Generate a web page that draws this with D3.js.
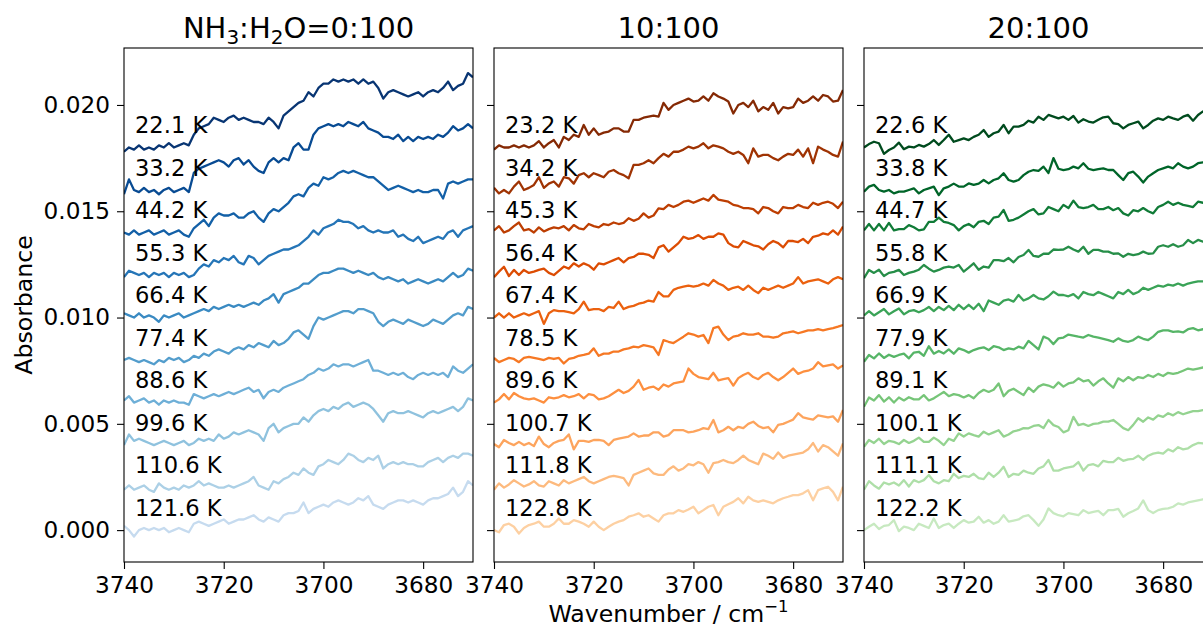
<!DOCTYPE html>
<html><head><meta charset="utf-8">
<script src="https://cdn.jsdelivr.net/npm/d3@7"></script>
<style>body{margin:0;background:#fff}svg{display:block}text{font-family:"DejaVu Sans",sans-serif}</style>
</head><body><svg id="c" width="1203" height="628"></svg>
<script>
// ---------- DATA ----------
// Wavenumber grid (cm^-1): 3740 down to 3670, step 1
const wnStart = 3740, wnStep = -1;
// vertical offsets applied to each spectrum (absorbance)
const offsets = [0.018, 0.016, 0.014, 0.012, 0.010, 0.008, 0.006, 0.004, 0.002, 0.000];
// spectra values in units of 1e-4 absorbance (before offset)
const titles = ["NH3:H2O=0:100", "10:100", "20:100"];
const temps0 = ["22.1 K","33.2 K","44.2 K","55.3 K","66.4 K","77.4 K","88.6 K","99.6 K","110.6 K","121.6 K"];
const temps1 = ["23.2 K","34.2 K","45.3 K","56.4 K","67.4 K","78.5 K","89.6 K","100.7 K","111.8 K","122.8 K"];
const temps2 = ["22.6 K","33.8 K","44.7 K","55.8 K","66.9 K","77.9 K","89.1 K","100.1 K","111.1 K","122.2 K"];

// Panel 1: NH3:H2O = 0:100
const b_221 = [-2,0,-1,1,-1,0,-1,1,0,2, 0,1,2,1,6,9,10,11,14,13, 12,14,15,13,14,13,12,12,11,14, 12,9,15,17,19,21,22,26,24,28, 30,30,32,31,32,31,32,30,32,30, 31,28,23,26,27,26,25,24,25,26, 24,26,27,26,28,31,27,29,30,35,33];
const b_332 = [-2,5,0,-1,1,-1,0,-2,0,1, -1,0,1,-1,8,10,11,12,13,14, 13,11,14,15,12,14,11,9,8,13, 15,13,15,14,20,22,19,19,26,29, 30,31,30,31,30,32,31,30,32,29, 28,27,25,25,24,26,23,25,23,25, 24,25,24,26,25,27,30,28,29,31,29];
const b_442 = [0,-1,1,-1,0,1,-1,0,1,-1, 0,1,-1,-2,2,4,6,3,7,9, 8,8,9,7,7,9,10,7,5,9, 11,10,12,14,17,18,17,21,23,22, 26,25,26,28,29,28,29,28,27,26, 26,24,22,20,21,22,21,20,19,20, 19,19,20,20,16,23,24,23,24,25,25];
const b_553 = [-1,2,1,0,1,-1,1,0,1,-1, 1,0,1,-1,0,3,5,4,7,6, 8,7,9,6,5,9,8,5,7,9, 10,11,12,12,13,14,16,18,21,19, 22,23,24,26,25,25,24,22,23,21, 20,21,20,20,21,18,19,17,16,18, 15,16,17,18,17,20,21,18,21,22,23];
const b_664 = [2,1,0,2,0,1,0,-2,1,0, 1,2,0,1,2,3,4,3,5,4, 5,6,5,6,5,6,7,6,8,9, 11,7,11,12,13,14,16,16,18,20, 21,21,22,23,23,22,21,22,21,20, 21,19,18,19,18,17,18,16,17,18, 17,16,17,18,17,19,21,19,20,23,22];
const b_774 = [0,1,0,-1,0,-1,-2,0,-1,1, 0,1,-1,0,2,1,3,2,4,5, 4,3,5,6,5,7,6,8,7,6, 9,7,8,10,13,14,12,10,16,20, 19,20,21,22,23,23,22,24,24,23, 22,18,16,18,19,18,17,19,18,17, 16,17,19,18,17,19,21,22,21,25,24];
const b_886 = [1,3,0,1,2,0,1,-1,1,0, 1,0,0,-1,4,3,2,3,4,3, 4,5,4,5,6,7,5,6,2,5, 6,5,7,8,9,10,11,13,14,16, 15,16,18,17,18,18,17,18,19,20, 15,15,14,13,14,13,14,12,11,13, 14,13,14,13,14,12,17,15,14,16,18];
const b_996 = [0,5,2,3,2,1,0,1,2,1, 0,1,2,0,1,3,2,3,2,5, 3,4,6,5,6,7,6,5,2,8, 10,6,8,9,10,10,13,11,14,16, 17,16,18,17,19,20,18,19,20,19, 17,14,11,15,16,15,15,16,15,14, 13,15,16,15,16,17,18,16,18,22,21];
const b_1106 = [-1,1,-1,0,1,-1,-2,2,0,-1, 0,-1,1,0,1,3,1,2,1,0, 0,1,0,1,2,3,5,1,0,-1, 3,2,4,5,7,6,9,7,6,10, 11,13,12,11,13,16,15,13,12,14, 13,15,9,11,12,11,12,11,11,10, 10,12,13,14,12,14,15,14,16,16,15];
const b_1216 = [2,0,-3,0,1,0,1,0,1,-1, 0,1,0,-1,3,4,3,2,3,4, 5,3,4,5,5,6,7,5,4,6, 5,4,7,8,8,9,13,8,10,11, 12,11,13,14,13,12,13,15,14,16, 12,11,10,12,13,14,14,13,14,13, 12,14,15,15,16,17,20,16,18,23,21];

// Panel 2: 10:100
const o_232 = [-1,1,0,0,1,0,1,0,1,3, 0,2,3.5,0,5,3.5,6,5,10.6,6, 9,6,7,7.5,9,9,7.5,7.5,13,13, 14,14.5,15,14.5,21,17.7,20,21,22,23, 21.6,22,24,22,25.5,24,23,21.6,16,20, 21,19,22,17,19,17.7,21,16,19,18.4, 19,23,21,22,24,22,24.7,24,21.6,22,27];
const o_342 = [1,-1.6,0,-1.6,1.6,4,0,1,2.4,6, 1,3,4,1.6,6,5.5,3,7,7.9,6, 7.9,7,6,8.6,9.4,7.9,7,5.5,11.8,11.8, 12.6,14,12.6,15,17,15.7,18,18,19,20.4, 19.6,20.4,22,19.6,21,20.4,19.6,18,17,18, 16.5,12.6,19.6,15.7,16.5,16.5,15,14,15.7,17, 16.5,19,15.7,19.6,12.6,20.4,19,18,16.5,15.7,22.8];
const o_453 = [1,3,0,1,3,4.7,1,1.6,0,2.4, 0.5,1.6,2.4,2,3,1,3.5,2,1.5,4, 3,2.4,4,3.5,4.7,4,4.5,6.7,5.5,6.5, 9,7,8,11.4,11,13,12,13,14.5,15, 14,15,16,15,17.7,15.5,15,14.5,13,12.5, 11.5,11.5,11,9,12,11.5,10,9,12,11.5, 11.5,13,12,11.5,14,13,14,14.5,13.5,11.5,14.5];
const o_564 = [-1,1.6,3.9,-0.5,2.4,0,2.4,1,1.6,2.4, 3,1,0,2,4,3,5.5,4,5.5,4.5, 2.5,5.5,5,6,7,8,6,8,8.5,10, 10,9.5,8,13,14,11,13,15,18,17, 17.5,18.8,17,18,18,19.6,19,15,13.5,13, 16,15,14,13.5,12,14.5,16,15,13,16, 16,15.5,17,15,18,18.5,19.6,19,21,19,22.8];
const o_674 = [0,2,0,2,0,1,2,1,2,3, -3,2,3.5,3,3,2.5,2,4,7.5,3.5, 4,4,3,5,4.5,7.5,4,5,5.5,6.5, 7,8,7.5,12,10,10,13,14,14.5,15, 14.5,15,16,15,17.7,16,15,13,14,14.5, 13,15,13,11.5,14,13,14,15,14,15, 16,19,16,17,17.5,18,17,16,18,19,18];
const o_785 = [1,-1,0,1,0.5,-1,1,1.5,1,0.5, 0,1,0.5,1,-1.6,0.5,1,2,2.4,3, 5.5,2,3,3,4,4,5,5.5,6.3,6, 7,6.5,6,2.4,9.4,8.6,8,9.5,11,12.6, 12,11,11.8,8,15,15.7,12,9.4,11,11.5, 12.6,12,12,12.6,11,11,10.5,11,12.6,13, 13.5,12.6,13.3,14,14,14.5,14,14.5,15,15.7,16.5];
const o_896 = [0,1.5,4,1.5,4.5,3,2,1.5,2,1, 0,2.5,2,2.5,3.5,2.5,3,4,2,4, 3.5,1.5,2,3,4.5,6,4.5,5.5,7.5,10.6, 6,7,7.5,6,8.5,7.5,9,9.5,10,16, 13.5,12,11.5,11,14,10.5,11,11.5,8,11.5, 13,14,12,11,13,14,12,10.5,12,14, 16,13.5,14.5,15,16,19,17,17.5,18,16,17.5];
const o_1007 = [0.5,-1,2.4,1,0,1.5,0,1,-0.5,4, 0.5,-1,1,2,2.5,5,-2,2,2,1.5, 2.4,2.4,2,0,2.4,3,3.5,4,5.5,4, 4.5,4.5,6,6,4,4.7,7,7,7,6, 6.3,7,8,7.5,11.8,6,7,8.6,7,8.6, 8,10,11,9,8,8.5,6,9.5,10,11, 12,15,13,12.5,12,14,13.5,13,13.5,11,16.5];
const o_1118 = [-1,2,0,1.5,3.5,2,0.5,1.5,3,1, 0.5,3,2,1,3.5,2,3,4,5,3, 2,3,4,5,5.5,5,4.5,1,6,7, 8,9,6.7,6,6,8.5,10,8,9,11, 10.5,12,11,7,11.5,12,13,12,11.5,13, 15,13,12,11,16,15,13.5,16.5,14,15, 15.5,16,16.5,18,21,17,20,19,17,15,20.8];
const o_1228 = [0,-1,2.4,3,1.6,-1.6,1,2.4,3,4, 1.6,1.6,3,5.5,3,3,4.7,4,3,1.6, 4,1.6,0,1.6,3,4,4.7,6.3,7,7.9, 6.3,7,5.5,4,7,7.9,7.9,9.4,8.6,9.7, 11,7.9,9.4,11,11.8,7,11,12.2,13.3,15, 12.6,15.7,14,13.3,14,13.3,12.6,14,15,15.7, 16.5,16.5,17.3,18.8,14,18.8,19.6,20.4,18,14,20.4];

// Panel 3: 20:100
const g_226 = [0,1.6,2.7,2,-3,-1.2,0,2.3,-0.8,0.4, 0,1.2,0.4,1.6,3.5,1.2,3.5,6,2.7,3.5, 4.3,3.5,5,6,8.2,5,6.7,7.5,10.6,6.7, 9.8,9.8,10.6,12.6,11.7,14.5,13,15.3,14.5,13.7, 14.5,13,14.8,11.7,13.3,12.2,11.7,13,14.2,14.5, 11.4,11,9,10.6,11.4,12.2,9,10.6,12.6,13.7, 13,14.5,13.7,13,14.5,15.3,12.6,15.3,17,16,17];
const g_338 = [-0.8,1.6,2.4,0,-0.8,0,-1.6,-0.8,-0.8,0, 0.8,-1.6,0,0.8,1.6,-2.4,0.8,1.6,3,1.6, 1.6,3.1,2.4,3,4.7,3.1,4.7,5.5,7.9,4.7, 3.9,4.7,7,8.6,9.4,9,11,8,15,10, 9.4,9.8,11,10.2,12.6,10,9.4,9.8,10.2,9.4, 9.4,7,4.7,7.9,8.6,6.3,3.5,6.3,7.9,9.4, 10.2,11,10.2,12.6,11,10.2,11,12.6,13,12,13];
const g_447 = [1,4,1,4,1,4.5,1,1.6,1.6,3.5, 2.5,1,1.5,5,5,7,5,4.5,3.5,1, 3,4,2.5,5,5.5,4,7,7.5,10.6,5.5, 6,7,8.5,10,11,8.5,9,12,11,10, 13,11.5,15,12,11.5,12,13,11,11,12, 10.5,11.5,9,8,10.5,10,11.5,10,9,12, 13,14.5,13,14,13,12.5,12,14.5,14,15,14];
const g_558 = [-1.5,2.4,1,2.5,-0.5,1,1.5,2.4,0,1, 1.6,2.5,4.7,3,1.6,2.4,3.5,4,3.5,4.7, 1.6,3.5,5.5,2.5,4,3.5,7,7,6.5,8, 6,8.5,9.4,11.8,9,8.6,10,10,12,11.8, 12,13.3,12,11,13.3,10,11.8,11.8,11,11, 10,10.2,8.6,10,9.4,9.8,11,10,10.2,13.3, 14,13.3,14.5,13.3,14,16.5,15,16.5,15.7,17,16];
const g_669 = [1,3,1,2.5,4,1.5,3,4.3,1.5,3, 3.5,2.5,3.5,5,3,5,3.5,5.5,3.5,6, 4,6,4,6.5,3,8,7,6,8,8.5, 7.5,10.6,8,9,10.6,9,8.5,10,12.2,10.6, 10.6,10,11,9,12,11,10.5,12,11,10, 9,12,11,13,11,12,14,13,14,15, 14.5,15.5,15,16,15,16,16.5,17,17,18,17];
const g_779 = [-0.8,2.4,0.8,3.1,1,2.5,1.5,2.4,3,0.8, 3.5,3.9,2,6.5,3,4.3,3.1,5,3,5.5, 4.7,3.5,4.7,5.5,6,4.7,6.5,6,4.7,5.5, 5,6.3,5.5,9,7,5,11,10,7.5,10.2, 10.6,12,11.5,11,10.6,11.8,11,10.6,10,9.4, 8.6,10.2,9,8.6,9.4,11,10,9.4,11,13.3, 14,14,13.3,13.5,13,14.5,15,14,14.5,15,14.5];
const g_891 = [-2,2.4,1,3.5,0.5,2.5,0,2.4,1,2.5, 1.5,1.5,3.5,1,2,3.5,5,3,4,3.5, 2.4,3.5,2,4.5,6,5,6,9,3,5.5, 6.5,5,3.5,7,5,7.5,8.6,8,7,9.5, 7.5,9,9.5,11.4,10,10.6,8,10,11.4,9, 7,11.4,10,12,10.5,12,11.5,13,12,13.5, 12.5,14,13.5,14,15,16,15.5,16,16.5,17,16.5];
const g_1001 = [-0.8,2.4,1,3,0.5,2,1.5,0.5,2.4,1, 2,3.5,1.5,1.5,3.5,2,0,3,2,5.5, 4,5.5,4.7,4,6.3,5,6,7,4,5, 6.5,7,8,7.9,9,9.4,8,11.8,9.4,8.5, 6,7,13.3,9.4,10,9,10,10.2,11,11, 11.8,10,8,7,9.5,12.6,11,13,12,14, 13.3,15,14,15.5,14.5,15.3,16,16,16.5,17,16.5];
const g_1111 = [-1,3,1,-0.5,2.4,1.5,2.4,1,3.5,0.5, 3.5,2.5,3.5,5.9,3,2,3.5,3,6.5,4.5, 5.5,5,6.5,4.5,4,7,5,7,9.8,5, 6.5,6,8,7,6.5,9,10,13,8,8, 9,9.5,10,12,8,10.6,11,10,12.6,12, 12,14,12.6,13.3,13.5,15,13,15,16,16.5, 16,18,17,19,18,18.5,20,21,20.8,21,21.5];
const g_1222 = [0,1.6,3,0.5,2,2.4,4.7,-0.5,1.6,1, 0,3,2,1,5.5,1,2.4,3,1,3, 4.7,3.5,4,6.3,3.5,4.7,3,4,7,4, 4.5,5,6.5,7,4.7,2,5,10.2,8,7, 6.5,8,7.5,7,9.4,8,8.6,9,7,9.4, 9.4,10,6.3,7.9,9,10.2,14,9.4,8,9.4, 10,10.2,11,12.6,12,13,13.5,14,14.5,15,14.5];

const yTicks = [0, 0.005, 0.010, 0.015, 0.020];
const xTicks = [3740, 3720, 3700, 3680];

// ---------- STYLE / LAYOUT ----------
const cmaps = {
  Blues: ["#f7fbff","#deebf7","#c6dbef","#9ecae1","#6baed6","#4292c6","#2171b5","#08519c","#08306b"],
  Oranges: ["#fff5eb","#fee6ce","#fdd0a2","#fdae6b","#fd8d3c","#f16913","#d94801","#a63603","#7f2704"],
  Greens: ["#f7fcf5","#e5f5e0","#c7e9c0","#a1d99b","#74c476","#41ab5d","#238b45","#006d2c","#00441b"]
};
const panels = [
  {title: titles[0], temps: temps0, cmap: "Blues", series: [b_221,b_332,b_442,b_553,b_664,b_774,b_886,b_996,b_1106,b_1216]},
  {title: titles[1], temps: temps1, cmap: "Oranges", series: [o_232,o_342,o_453,o_564,o_674,o_785,o_896,o_1007,o_1118,o_1228]},
  {title: titles[2], temps: temps2, cmap: "Greens", series: [g_226,g_338,g_447,g_558,g_669,g_779,g_891,g_1001,g_1111,g_1222]}
];
const lefts = [124, 494, 864], pw = 349, pTop = 48, pBottom = 562;
const TICKFONT = 23.2, LABFONT = 22.6, AXFONT = 23.6, TITLEFONT = 29;

const svg = d3.select("#c");
const y = d3.scaleLinear().domain([-0.0015, 0.02268]).range([pBottom, pTop]);

panels.forEach((p, pi) => {
  const L = lefts[pi];
  const x = d3.scaleLinear().domain([3740, 3670]).range([L, L + pw]);
  const cm = d3.scaleLinear().domain(d3.range(9).map(i => i / 8)).range(cmaps[p.cmap]).interpolate(d3.interpolateRgb);
  const clipId = "clip" + pi;
  svg.append("clipPath").attr("id", clipId).append("rect")
    .attr("x", L).attr("y", pTop).attr("width", pw).attr("height", pBottom - pTop);

  const g = svg.append("g");
  const line = d3.line().x((d, i) => x(wnStart + i * wnStep)).y(d => d);
  p.series.forEach((s, si) => {
    const t = 0.98 - si * (0.73 / 9);
    const pts = s.map(v => y(offsets[si] + v * 1e-4));
    g.append("path").attr("d", line(pts)).attr("fill", "none")
      .attr("stroke", cm(t)).attr("stroke-width", 2.3)
      .attr("stroke-linejoin", "round").attr("clip-path", `url(#${clipId})`);
  });
  // temperature labels
  p.temps.forEach((lab, si) => {
    svg.append("text").attr("x", x(3737.8)).attr("y", y(offsets[si] + 0.00068))
      .attr("font-size", LABFONT).attr("fill", "#000").text(lab);
  });

  // axes
  const ya = d3.axisLeft(y).tickValues(yTicks).tickSize(7).tickPadding(7)
    .tickFormat(pi === 0 ? d3.format(".3f") : () => "");
  const yg = svg.append("g").attr("transform", `translate(${L},0)`).call(ya);
  yg.select(".domain").remove();
  yg.selectAll("text").attr("font-size", TICKFONT).attr("fill", "#000").attr("font-family", "DejaVu Sans");
  yg.selectAll("line").attr("stroke", "#000").attr("stroke-width", 1.1);

  const xa = d3.axisBottom(x).tickValues(xTicks).tickSize(7).tickPadding(7.5).tickFormat(d3.format("d"));
  const xg = svg.append("g").attr("transform", `translate(0,${pBottom})`).call(xa);
  xg.select(".domain").remove();
  xg.selectAll("text").attr("font-size", TICKFONT).attr("fill", "#000").attr("font-family", "DejaVu Sans");
  xg.selectAll("line").attr("stroke", "#000").attr("stroke-width", 1.1);

  svg.append("rect").attr("x", L).attr("y", pTop).attr("width", pw).attr("height", pBottom - pTop)
    .attr("fill", "none").attr("stroke", "#000").attr("stroke-width", 1.1);

  // title
  const tt = svg.append("text").attr("x", L + pw / 2).attr("y", 37.5).attr("text-anchor", "middle")
    .attr("font-size", TITLEFONT).attr("fill", "#000");
  if (pi === 0) {
    tt.append("tspan").text("NH");
    tt.append("tspan").attr("dy", 6).attr("font-size", 20).text("3");
    tt.append("tspan").attr("dy", -6).text(":H");
    tt.append("tspan").attr("dy", 6).attr("font-size", 20).text("2");
    tt.append("tspan").attr("dy", -6).text("O=0:100");
  } else {
    tt.text(p.title);
  }
});

// axis labels
svg.append("text").attr("transform", "translate(31.5,305) rotate(-90)").attr("text-anchor", "middle")
  .attr("font-size", AXFONT).attr("fill", "#000").text("Absorbance");
const xl = svg.append("text").attr("x", 668.5).attr("y", 622).attr("text-anchor", "middle")
  .attr("font-size", AXFONT).attr("fill", "#000");
xl.append("tspan").text("Wavenumber / cm");
xl.append("tspan").attr("dy", -10).attr("font-size", 16.5).text("\u22121");
</script></body></html>
